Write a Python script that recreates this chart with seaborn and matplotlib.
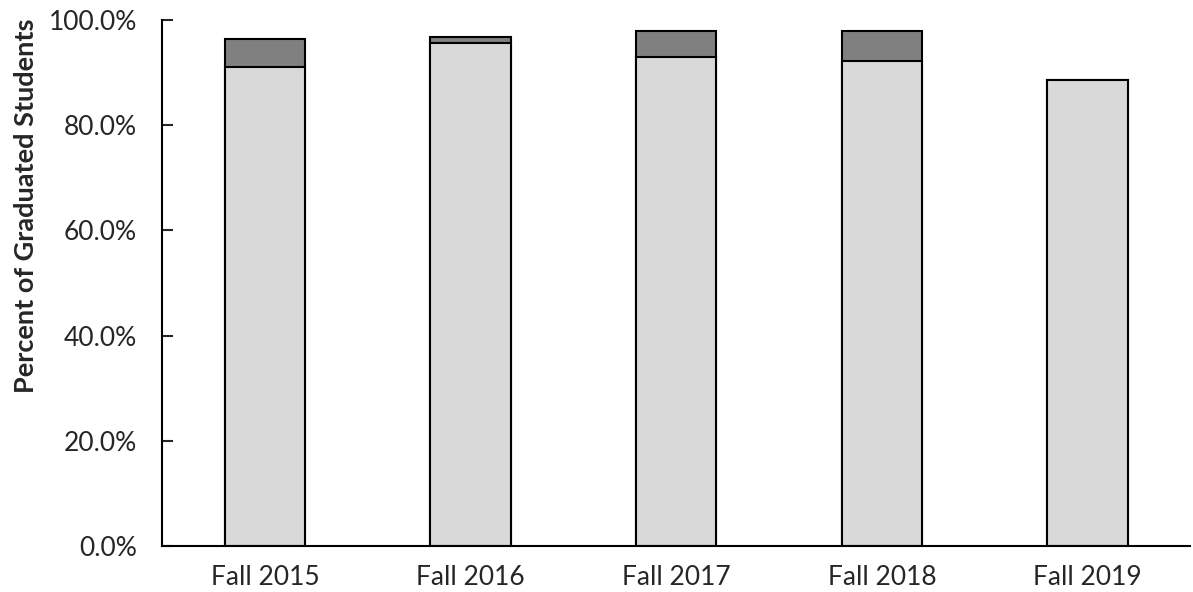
import pandas as pd
import numpy as np
import seaborn as sns
import matplotlib.pyplot as plt
from matplotlib.ticker import PercentFormatter

terms = ["Fall 2015", "Fall 2016", "Fall 2017", "Fall 2018", "Fall 2019"]
graduated_on_time = [91.0, 95.6, 93.0, 92.2, 88.6]
graduated_late = [5.3, 1.1, 4.9, 5.7, 0.0]

df = pd.DataFrame({"term": terms, "on_time": graduated_on_time, "late": graduated_late})
df["total"] = df["on_time"] + df["late"]

sns.set_style("white")
plt.rcParams["font.family"] = ["Lato", "DejaVu Sans"]

fig = plt.figure(figsize=(11.93, 5.92), dpi=100)
ax = fig.add_axes([0.1358, 0.0777, 0.862, 0.8885])

# stacked: draw totals (dark) first, then the bottom part over it
sns.barplot(data=df, x="term", y="total", color="#808080", saturation=1,
            edgecolor="black", linewidth=1.5, width=0.39, ax=ax)
sns.barplot(data=df, x="term", y="on_time", color="#d9d9d9", saturation=1,
            edgecolor="black", linewidth=1.5, width=0.39, ax=ax)

ax.set_ylim(0, 100)
ax.set_xlim(-0.5, 4.5)
ax.set_yticks(np.arange(0, 101, 20))
ax.yaxis.set_major_formatter(PercentFormatter(decimals=1))
ax.tick_params(axis="y", direction="in", length=8, width=1.5, labelsize=19, left=True, pad=18)
ax.tick_params(axis="x", length=0, labelsize=19, pad=14)
ax.set_xlabel("")
ax.set_ylabel("Percent of Graduated Students", fontsize=19.5, fontweight="bold")
ax.yaxis.set_label_coords(-0.121, 0.646)

for side in ["top", "right"]:
    ax.spines[side].set_visible(False)
for side in ["left", "bottom"]:
    ax.spines[side].set_color("black")
    ax.spines[side].set_linewidth(1.5)

fig.savefig("out.png", dpi=100)
